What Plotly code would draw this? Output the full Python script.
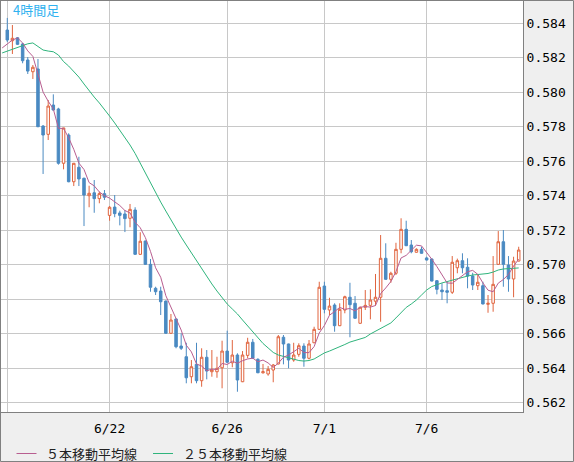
import plotly.graph_objects as go

# ---------------- data ----------------
candle_idx = list(range(101))
ma_idx = list(range(-1, 101))

opens = [
    .58361, .58299, .58316, .58280, .58187, .58119, .58135, .57804, .57756, .57926,
    .57903, .57588, .57752, .57481, .57565, .57501, .57400, .57417, .57383, .57412,
    .57286, .57334, .57300, .57294, .57269, .57317, .57060, .57137, .57002, .56863,
    .56847, .56789, .56602, .56685, .56528, .56466, .56350, .56422, .56327, .56463,
    .56379, .56379, .56402, .56499, .56431, .56476, .56321, .56474, .56550, .56451,
    .56373, .56366, .56389, .56424, .56579, .56540, .56447, .56480, .56528, .56457,
    .56547, .56625, .56876, .56737, .56766, .56646, .56737, .56811, .56776, .56660,
    .56753, .56764, .56788, .56811, .57037, .56915, .56950, .57089, .57205, .57114,
    .57072, .57089, .57039, .57033, .56907, .56853, .56849, .56840, .56982, .57023,
    .56985, .56934, .56878, .56878, .56770, .56776, .57002, .57133, .56998, .56917,
    .57021]

highs = [
    .58431, .58390, .58320, .58287, .58204, .58158, .58193, .57810, .57955, .57988,
    .57910, .57794, .57762, .57590, .57626, .57505, .57458, .57491, .57423, .57433,
    .57340, .57404, .57313, .57317, .57352, .57333, .57188, .57140, .57033, .56872,
    .56872, .56792, .56714, .56687, .56602, .56547, .56447, .56547, .56515, .56505,
    .56505, .56466, .56559, .56617, .56563, .56486, .56499, .56576, .56569, .56457,
    .56424, .56412, .56424, .56592, .56592, .56542, .56547, .56544, .56544, .56563,
    .56640, .56901, .56901, .56808, .56776, .56776, .56820, .56895, .56818, .56756,
    .56853, .56857, .56946, .57172, .57124, .56959, .57127, .57269, .57255, .57143,
    .57095, .57104, .57046, .57035, .56911, .56892, .56901, .57050, .57035, .57066,
    .57037, .56953, .56940, .56901, .56824, .57050, .57195, .57201, .57050, .57046,
    .57104]

lows = [
    .58291, .58222, .58274, .58168, .58106, .58077, .57798, .57526, .57723, .57895,
    .57580, .57553, .57478, .57456, .57456, .57224, .57333, .57301, .57356, .57375,
    .57255, .57275, .57228, .57189, .57217, .57058, .57058, .57000, .56843, .56824,
    .56708, .56600, .56600, .56515, .56505, .56312, .56312, .56312, .56292, .56335,
    .56350, .56344, .56283, .56432, .56405, .56263, .56319, .56457, .56455, .56371,
    .56368, .56356, .56318, .56422, .56422, .56399, .56437, .56466, .56408, .56451,
    .56545, .56621, .56718, .56708, .56611, .56644, .56718, .56579, .56687, .56658,
    .56737, .56683, .56762, .56669, .56913, .56895, .56940, .57066, .57108, .57066,
    .57070, .57064, .57025, .56903, .56828, .56795, .56776, .56830, .56950, .56950,
    .56863, .56853, .56853, .56770, .56721, .56727, .57000, .56872, .56843, .56811,
    .57019]

closes = [
    .58303, .58313, .58278, .58183, .58123, .58145, .57800, .57752, .57920, .57897,
    .57588, .57793, .57481, .57588, .57497, .57404, .57414, .57383, .57412, .57391,
    .57333, .57296, .57286, .57267, .57321, .57060, .57136, .57002, .56869, .56843,
    .56785, .56602, .56679, .56524, .56515, .56344, .56408, .56327, .56463, .56383,
    .56389, .56399, .56499, .56434, .56476, .56331, .56476, .56550, .56457, .56373,
    .56379, .56393, .56418, .56582, .56540, .56447, .56476, .56530, .56457, .56540,
    .56625, .56869, .56741, .56760, .56646, .56741, .56814, .56768, .56689, .56753,
    .56764, .56795, .56811, .57037, .56915, .56950, .57089, .57205, .57110, .57075,
    .57089, .57066, .57027, .56905, .56857, .56843, .56840, .57014, .57023, .56982,
    .56934, .56882, .56898, .56772, .56776, .56886, .57133, .57002, .56917, .57021,
    .57085]

ma5 = [
    .58257, .58280, .58303, .58315, .58286, .58240, .58208, .58106, .58001, .57948,
    .57903, .57791, .57790, .57736, .57669, .57589, .57552, .57476, .57457, .57422,
    .57400, .57386, .57363, .57343, .57314, .57300, .57246, .57214, .57157, .57077,
    .56982, .56927, .56820, .56756, .56687, .56621, .56533, .56494, .56424, .56412,
    .56385, .56394, .56392, .56427, .56421, .56440, .56428, .56443, .56453, .56458,
    .56437, .56447, .56430, .56404, .56429, .56463, .56476, .56493, .56515, .56490,
    .56490, .56525, .56604, .56647, .56707, .56728, .56752, .56741, .56746, .56732,
    .56753, .56757, .56754, .56763, .56832, .56865, .56902, .56960, .57039, .57054,
    .57086, .57113, .57109, .57073, .57032, .56989, .56939, .56894, .56892, .56915,
    .56941, .56959, .56967, .56944, .56894, .56852, .56843, .56893, .56914, .56943,
    .56992, .57032]

ma25 = [
    .58228, .58239, .58249, .58260, .58270, .58281, .58286, .58265, .58245, .58239,
    .58235, .58216, .58178, .58152, .58123, .58088, .58048, .58007, .57972, .57938,
    .57903, .57862, .57822, .57781, .57740, .57694, .57645, .57587, .57529, .57474,
    .57416, .57363, .57311, .57259, .57207, .57160, .57114, .57068, .57021, .56975,
    .56928, .56888, .56847, .56810, .56772, .56743, .56714, .56679, .56644, .56607,
    .56572, .56543, .56517, .56491, .56476, .56467, .56459, .56450, .56444, .56441,
    .56444, .56453, .56470, .56488, .56499, .56511, .56522, .56537, .56551, .56560,
    .56569, .56578, .56598, .56615, .56633, .56647, .56662, .56691, .56720, .56752,
    .56772, .56795, .56824, .56853, .56873, .56885, .56894, .56902, .56911, .56917,
    .56926, .56934, .56940, .56943, .56946, .56949, .56957, .56969, .56975, .56978,
    .56979, .56981]

date_tick_idx = [0, 20, 43, 62, 82]
date_tick_text = ["", "6/22", "6/26", "7/1", "7/6"]
price_ticks = [0.562, 0.564, 0.566, 0.568, 0.570, 0.572, 0.574, 0.576, 0.578, 0.580, 0.582, 0.584]

title_text = "4時間足"
ma5_name = "５本移動平均線"
ma25_name = "２５本移動平均線"

# ---------------- styles ----------------
RED = "#e0643e"
BLUE = "#4a8ac2"
MAUVE = "#b85e90"
GREEN = "#2fb47c"
FRAME = "#808080"
GRID = "#c8c8c8"

W, H = 574, 462
L, R, T, B = 1, 51, 1, 50
PW, PH = W - L - R, H - T - B


def px_x(p):
    return (p - L) / PW


def px_y(p):
    return (T + PH - p) / PH


fig = go.Figure()
fig.add_trace(go.Candlestick(
    x=candle_idx, open=opens, high=highs, low=lows, close=closes,
    increasing=dict(line=dict(color=RED, width=1), fillcolor="white"),
    decreasing=dict(line=dict(color=BLUE, width=1), fillcolor=BLUE),
    whiskerwidth=0, showlegend=False, hoverinfo="skip",
))
fig.add_trace(go.Scatter(x=ma_idx, y=ma25, mode="lines", name=ma25_name,
                         line=dict(color=GREEN, width=1), hoverinfo="skip"))
fig.add_trace(go.Scatter(x=ma_idx, y=ma5, mode="lines", name=ma5_name,
                         line=dict(color=MAUVE, width=1), hoverinfo="skip"))

mono = dict(family="DejaVu Sans Mono", size=13, color="#000000")

fig.update_layout(
    width=W, height=H, autosize=False,
    margin=dict(l=L, r=R, t=T, b=B, pad=0),
    paper_bgcolor="#efefef", plot_bgcolor="white",
    showlegend=False,
    boxgap=0.3,
    xaxis=dict(
        range=[-1.23, 100.84], tickmode="array", tickvals=date_tick_idx, ticktext=date_tick_text,
        showgrid=True, gridcolor=GRID, gridwidth=1, zeroline=False,
        showline=True, mirror=True, linecolor=FRAME, linewidth=1,
        ticks="", ticklabelstandoff=4, tickfont=mono,
        rangeslider=dict(visible=False), fixedrange=True,
    ),
    yaxis=dict(
        side="right", range=[0.561455, 0.585293], tickmode="array", tickvals=price_ticks,
        tickformat=".3f", showgrid=True, gridcolor=GRID, gridwidth=1, zeroline=False,
        showline=True, mirror=True, linecolor=FRAME, linewidth=1,
        ticks="", tickfont=mono, fixedrange=True,
    ),
    shapes=[
        dict(type="rect", xref="paper", yref="paper",
             x0=px_x(0.5), x1=px_x(573.5), y0=px_y(461.5), y1=px_y(0.5),
             line=dict(color=FRAME, width=1), fillcolor="rgba(0,0,0,0)", layer="above"),
        dict(type="line", xref="paper", yref="paper",
             x0=px_x(16.5), x1=px_x(36.5), y0=px_y(453.5), y1=px_y(453.5),
             line=dict(color=MAUVE, width=1)),
        dict(type="line", xref="paper", yref="paper",
             x0=px_x(153), x1=px_x(173), y0=px_y(453.5), y1=px_y(453.5),
             line=dict(color=GREEN, width=1)),
    ],
    annotations=[
        dict(text=title_text, xref="paper", yref="paper", x=px_x(11), y=px_y(9.5),
             xanchor="left", yanchor="middle", showarrow=False,
             font=dict(family="Noto Sans CJK JP", size=13, color="#30b2f0")),
        dict(text=ma5_name, xref="paper", yref="paper", x=px_x(44), y=px_y(453),
             xanchor="left", yanchor="middle", showarrow=False,
             font=dict(family="Noto Sans CJK JP", size=13, color="#222222")),
        dict(text=ma25_name, xref="paper", yref="paper", x=px_x(181), y=px_y(453),
             xanchor="left", yanchor="middle", showarrow=False,
             font=dict(family="Noto Sans CJK JP", size=13, color="#222222")),
    ],
)

fig.write_html("out.html")
